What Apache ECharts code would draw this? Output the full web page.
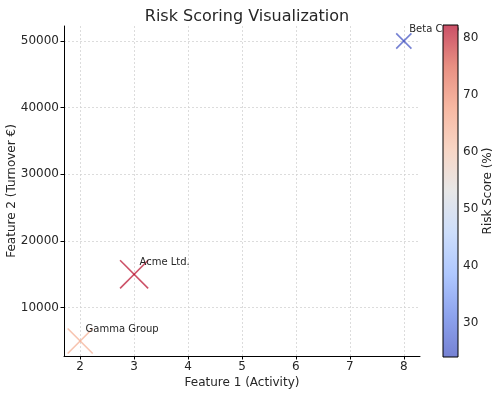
<!DOCTYPE html>
<html>
<head>
<meta charset="utf-8">
<script src="https://cdn.jsdelivr.net/npm/echarts@6/dist/echarts.min.js"></script>
<style>html,body{margin:0;padding:0;background:#fff}#c{width:500px;height:395px}</style>
</head>
<body>
<div id="c"></div>
<script>
const companies = ["Acme Ltd.", "Beta Corp", "Gamma Group"];
const activity = [3, 8, 2];
const turnover = [15000, 50000, 5000];
const riskScore = [82, 24, 65];
const xTicks = [2, 3, 4, 5, 6, 7, 8];
const yTicks = [10000, 20000, 30000, 40000, 50000];
const cbTicks = [30, 40, 50, 60, 70, 80];

const coolwarm = ['#3b4cc0','#5d7ce6','#8db0fe','#b8d0f9','#dddddd','#f5c4ac','#f49a7b','#de604d','#b40426'];
const riskMin = 24, riskMax = 82.3;
const FONT = 'DejaVu Sans';
const TXT = '#262626';

const data = companies.map((n, i) => [activity[i], turnover[i], riskScore[i], n]);

function withAlpha(c, a) {
  const col = echarts.color.parse(c);
  return 'rgba(' + col[0] + ',' + col[1] + ',' + col[2] + ',' + a + ')';
}

const chart = echarts.init(document.getElementById('c'), null, {renderer: 'canvas'});
const gridLine = {show: true, lineStyle: {color: '#d4d4d4', width: 0.8, type: [2, 2]}};
chart.setOption({
  animation: false,
  title: {text: 'Risk Scoring Visualization', left: 242, textAlign: 'center', top: 4,
    textStyle: {fontFamily: FONT, fontSize: 16, fontWeight: 'normal', color: TXT}},
  grid: [
    {left: 64, right: 80, top: 26, bottom: 39, containLabel: false, outerBoundsMode: 'none'},
    {left: 443, width: 15, top: 25, height: 332, containLabel: false, outerBoundsMode: 'none'}
  ],
  xAxis: [
    {type: 'value', gridIndex: 0, min: 1.7, max: 8.3,
      name: 'Feature 1 (Activity)', nameLocation: 'middle', nameGap: 21, nameMoveOverlap: false,
      nameTextStyle: {fontFamily: FONT, fontSize: 12, color: TXT},
      axisLine: {show: true, onZero: false, lineStyle: {color: '#000', width: 1}},
      axisTick: {show: true, length: 3.5, customValues: xTicks, lineStyle: {color: '#000'}},
      axisLabel: {customValues: xTicks, margin: 5, fontFamily: FONT, fontSize: 12, color: TXT},
      splitLine: gridLine},
    {type: 'value', gridIndex: 1, min: 0, max: 1, show: false}
  ],
  yAxis: [
    {type: 'value', gridIndex: 0, min: 2750, max: 52250,
      name: 'Feature 2 (Turnover €)', nameLocation: 'middle', nameGap: 46, nameMoveOverlap: false,
      nameTextStyle: {fontFamily: FONT, fontSize: 12, color: TXT},
      axisLine: {show: true, onZero: false, lineStyle: {color: '#000', width: 1}},
      axisTick: {show: true, length: 3.5, customValues: yTicks, lineStyle: {color: '#000'}},
      axisLabel: {customValues: yTicks, margin: 5, fontFamily: FONT, fontSize: 12, color: TXT,
        formatter: v => String(v)},
      splitLine: gridLine},
    {type: 'value', gridIndex: 1, min: riskMin, max: riskMax, position: 'right',
      name: 'Risk Score (%)', nameLocation: 'middle', nameGap: 24, nameMoveOverlap: false,
      nameTextStyle: {fontFamily: FONT, fontSize: 12, color: TXT},
      axisLine: {show: false},
      axisTick: {show: true, length: 3.5, customValues: cbTicks, lineStyle: {color: '#000'}},
      axisLabel: {customValues: cbTicks, margin: 5, fontFamily: FONT, fontSize: 12, color: TXT},
      splitLine: {show: false}}
  ],
  visualMap: {show: false, type: 'continuous', seriesIndex: 0, dimension: 2,
    min: riskMin, max: riskMax, inRange: {color: coolwarm}},
  series: [
    {type: 'custom', xAxisIndex: 0, yAxisIndex: 0, data: data, clip: false, z: 2,
      renderItem: function (params, api) {
        const x = api.value(0), y = api.value(1), r = api.value(2);
        const p = api.coord([x, y]);
        const h = 3.1 * Math.sqrt(r) / 2;
        const col = withAlpha(api.visual('color'), 0.7);
        const tp = api.coord([x + 0.1, y + 1000]);
        const name = data[params.dataIndex][3];
        return {type: 'group', children: [
          {type: 'line', shape: {x1: p[0]-h, y1: p[1]-h, x2: p[0]+h, y2: p[1]+h}, style: {stroke: col, lineWidth: 1.6}},
          {type: 'line', shape: {x1: p[0]-h, y1: p[1]+h, x2: p[0]+h, y2: p[1]-h}, style: {stroke: col, lineWidth: 1.6}},
          {type: 'text', x: tp[0], y: tp[1], style: {text: name, fill: TXT, font: '10px "DejaVu Sans"', textAlign: 'left', textVerticalAlign: 'bottom', verticalAlign: 'bottom'}}
        ]};
      }},
    {type: 'custom', xAxisIndex: 1, yAxisIndex: 1, data: [[0, riskMin, 1, riskMax]], z: 10,
      renderItem: function (params, api) {
        const a = api.coord([api.value(0), api.value(1)]);
        const b = api.coord([api.value(2), api.value(3)]);
        const stops = coolwarm.map((c, i) => ({offset: 1 - i / (coolwarm.length - 1), color: withAlpha(c, 0.7)}));
        const shape = {x: a[0], y: b[1], width: b[0]-a[0], height: a[1]-b[1]};
        return {type: 'group', children: [
          {type: 'rect', shape: shape, style: {fill: '#fff'}},
          {type: 'rect', shape: shape,
            style: {fill: new echarts.graphic.LinearGradient(0, 0, 0, 1, stops), stroke: '#000', lineWidth: 1}}
        ]};
      }}
  ]
});
</script>
</body>
</html>
